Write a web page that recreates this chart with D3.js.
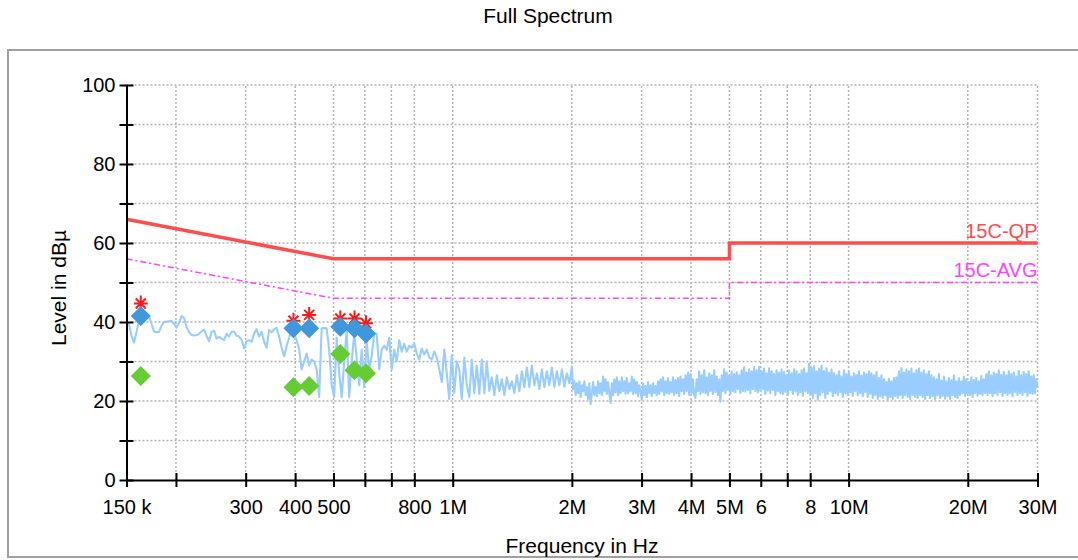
<!DOCTYPE html>
<html><head><meta charset="utf-8">
<script src="https://cdn.jsdelivr.net/npm/d3@7"></script>
<style>
body{margin:0;background:#fff}
svg{display:block}
text{font-family:"Liberation Sans",Arial,sans-serif}
</style>
</head><body>
<svg id="chart" width="1078" height="560"></svg>
<script>
const titleText = "Full Spectrum";
const xLabelText = "Frequency in Hz";
const yLabelText = "Level in dBµ";

const xTickValues = [150e3, 200e3, 300e3, 400e3, 500e3, 600e3, 700e3, 800e3, 1e6, 2e6, 3e6, 4e6, 5e6, 6e6, 7e6, 8e6, 10e6, 20e6, 30e6];
const xTickLabels = ["150 k", "", "300", "400", "500", "", "", "800", "1M", "2M", "3M", "4M", "5M", "6", "", "8", "10M", "20M", "30M"];
const yTickValues = [0, 10, 20, 30, 40, 50, 60, 70, 80, 90, 100];
const yTickLabels = ["0", "", "20", "", "40", "", "60", "", "80", "", "100"];

const limitNames = ["15C-QP", "15C-AVG"];
const limitQPFreq = [150e3, 500e3, 5e6, 5e6, 30e6];
const limitQPLevel = [66, 56, 56, 60, 60];
const limitAVGFreq = [150e3, 500e3, 5e6, 5e6, 30e6];
const limitAVGLevel = [56, 46, 46, 50, 50];

const markerFreq = [163e3, 396e3, 434e3, 520e3, 565e3, 604e3];
const peakLevel = [44.7, 40.3, 41.8, 40.9, 40.9, 39.7];
const qpLevel = [41.5, 38.4, 38.4, 38.8, 38.4, 37.1];
const avgLevel = [26.3, 23.5, 23.8, 31.9, 27.8, 27.0];

// spectrum trace, part 1: 150 kHz .. 2 MHz (evenly spaced on the log axis)
const traceLowStartHz = 150e3;
const traceLowStopHz = 2e6;
const traceLowLevels = [
40.2, 39.5, 36.5, 34.8, 37.5, 40.5, 41.5, 41.8, 41.5, 41.3,
39.5, 37.6, 37.4, 37.5, 39, 40, 40.1, 40.2, 40.3, 39.5,
38.6, 39.8, 41.5, 41, 38.7, 37.5, 36.7, 36.6, 36.7, 37,
37.6, 38.1, 36.5, 35.1, 37.5, 37.8, 35.8, 36.2, 35.8, 35.4,
37, 36.3, 37.5, 37.6, 36.5, 36.3, 35.5, 33.3, 35.2, 35.4,
35, 37, 38.2, 36.3, 37.5, 35, 33.5, 38, 37.4, 38.2,
38.5, 36.3, 33.5, 31.3, 34, 36, 38, 37, 35.3, 33,
28, 30, 32, 29, 30.5, 30, 28, 21, 38.4, 38.5,
38.4, 33, 24, 21, 36, 27, 21, 30, 38, 21,
30, 37, 31, 24, 33, 23.5, 35, 28, 31.5, 37,
37, 28, 33, 34, 33, 36, 28, 33, 30, 35.4,
32.5, 34.5, 32.5, 34, 33.5, 34.5, 32, 30.5, 33.3, 31.8,
33, 31, 30.5, 32.5, 31, 28, 24.8, 33, 27, 20.5,
31.6, 22, 30, 28, 20.5, 31, 24, 21, 30.4, 22,
29, 21.8, 30.5, 22, 30, 22.5, 26, 21.5, 26.5, 22.5,
25.5, 21.5, 26, 23, 25, 22, 26.5, 22.5, 27.5, 23.5,
28.5, 23.5, 29, 24, 27, 23, 28, 23.5, 27.5, 24,
28.5, 23.5, 27.5, 24, 28, 23.6, 27, 24.5, 28.7
];
// spectrum trace, part 2: 2 MHz .. 30 MHz (evenly spaced on the log axis)
const traceHighStartHz = 2e6;
const traceHighStopHz = 30e6;
const traceHighLevels = [
28.5, 23, 25, 21.5, 24.5, 22, 25, 21, 24, 22.5,
25, 21.5, 23.5, 20.5, 24.5, 19.2, 22, 24.8, 21.5, 23.5,
21.3, 25, 22, 24.5, 21.5, 26.2, 22.5, 25.5, 21.8, 24.8,
22, 19.5, 24.5, 21.5, 25.5, 22.2, 26, 21.5, 25, 22,
26, 22.5, 25, 21.8, 25.8, 22, 24.5, 22.5, 26.2, 21.8,
25.5, 22, 24.8, 21.2, 24, 22.3, 20.3, 24.5, 21.5, 23.8,
21, 24.8, 22, 24, 21.2, 24.5, 22, 23.8, 21.5, 25,
21.8, 25.5, 22.5, 26, 21.5, 25, 22, 25.8, 21.8, 24.8,
22.2, 26, 21.5, 25.3, 22, 25.8, 21.2, 26.2, 22.5, 25.5,
21.8, 26.5, 22.5, 27.2, 21.5, 26.8, 22, 25.5, 21.5, 20.8,
25.5, 22.5, 27.5, 21.8, 26.5, 22.2, 27.8, 22, 26, 21.5,
27, 22.5, 26.5, 21.8, 27.8, 22.3, 26.2, 21.5, 25.5, 19.8,
26.5, 22.5, 28, 22, 27.2, 22.8, 26.5, 21.8, 27.5, 22.5,
26.8, 22.2, 27.3, 23, 26.5, 22, 27.8, 22.5, 28.6, 22.4,
27.2, 22.8, 28, 22, 27.5, 23, 28.6, 22.5, 27.8, 22.2,
28.6, 22.5, 27.5, 23, 28.2, 21.8, 27, 22.6, 28.3, 22,
27.5, 22.8, 26.8, 21.5, 27.8, 22.5, 27.2, 22, 28, 21.8,
27.3, 22.3, 26.5, 21.5, 27.8, 22.8, 27, 21.8, 28, 22.5,
27.5, 21.5, 26.8, 22.2, 27.8, 21.3, 28.2, 22.5, 27, 22,
29.4, 21.5, 28.5, 20.8, 28.8, 22, 27.5, 20.3, 28.2, 21.5,
29, 22.2, 27.6, 20.8, 28.3, 21.8, 27.2, 22.5, 28, 21.2,
27, 22, 26.5, 21.5, 27.5, 22.3, 26.2, 21, 27.8, 22,
26.8, 21.5, 27.3, 22.2, 26.2, 21.3, 27, 22.5, 26.6, 21.5,
27.5, 22, 26.4, 21.2, 27.2, 22.3, 26.8, 21, 27.5, 21.8,
27, 20.8, 26.5, 21.5, 27.3, 20.5, 25.8, 21.2, 26.5, 20.8,
25.5, 21.5, 24.8, 20.3, 25.6, 21, 25, 20.5, 25.8, 21.3,
26, 20.8, 27.5, 21.5, 28.3, 20.8, 27.2, 21.5, 28, 21,
27.5, 20.5, 28.2, 21.5, 27, 21, 27.8, 20.8, 28.3, 21.5,
27.2, 21, 27.8, 20.5, 26.8, 21.5, 27.5, 20.8, 26.5, 21.2,
26, 20.5, 25.5, 21.5, 26.8, 20.8, 25.2, 21.3, 26.2, 20.6,
25, 21.2, 25.8, 20.5, 25.3, 21.5, 26.5, 21, 25, 20.8,
25.8, 21.5, 25, 22, 26.2, 21.2, 25.5, 21.8, 24.8, 21.5,
26, 21, 25.3, 22, 25.8, 21.3, 25, 21.8, 26.3, 21.5,
25.5, 22, 26.8, 21.5, 27.5, 22, 26.5, 21.2, 27.2, 22,
26.8, 21.5, 27.8, 22.2, 26.6, 21.3, 27.3, 22, 26.5, 21.5,
27.5, 22, 26.8, 21.2, 27.2, 22.3, 26.2, 21.5, 27.6, 22,
26.5, 21.5, 27.3, 22.2, 26.8, 21.3, 27.5, 22, 26.2, 21.8,
26.5, 22, 25.5, 23.5
];

const svg = d3.select("#chart");
const x = d3.scaleLog().domain([150e3, 30e6]).range([126.5, 1037.5]);
const y = d3.scaleLinear().domain([0, 100]).range([480, 85]);

// frame
svg.append("rect").attr("x", 8).attr("y", 50).attr("width", 1090).attr("height", 507)
  .attr("fill", "none").attr("stroke", "#a0a0a0").attr("stroke-width", 2);

// title
svg.append("text").attr("x", 548).attr("y", 23).attr("text-anchor", "middle")
  .attr("font-size", 21).text(titleText);

// grid
const grid = svg.append("g").attr("stroke", "#b4b4b4").attr("stroke-width", 1.5).attr("stroke-dasharray", "2,2");
grid.selectAll("line.v").data(xTickValues.slice(1)).join("line").attr("class", "v")
  .attr("x1", d => x(d)).attr("x2", d => x(d)).attr("y1", y(0)).attr("y2", y(100));
grid.selectAll("line.h").data(yTickValues.slice(1)).join("line").attr("class", "h")
  .attr("x1", x(150e3)).attr("x2", x(30e6)).attr("y1", d => y(d)).attr("y2", d => y(d));

// trace
function spread(levels, f0, f1) {
  const n = levels.length;
  return levels.map((v, i) => [f0 * Math.pow(f1 / f0, i / (n - 1)), v]);
}
const traceData = spread(traceLowLevels, traceLowStartHz, traceLowStopHz)
  .concat(spread(traceHighLevels, traceHighStartHz, traceHighStopHz).slice(1));
svg.append("path").datum(traceData)
  .attr("fill", "none").attr("stroke", "#99ccff").attr("stroke-width", 2.1).attr("stroke-linejoin", "round")
  .attr("d", d3.line().x(d => x(d[0])).y(d => y(d[1])));

// limit lines
const lineGen = d3.line().x(d => x(d[0])).y(d => y(d[1]));
svg.append("path").datum(limitAVGFreq.map((f, i) => [f, limitAVGLevel[i]]))
  .attr("fill", "none").attr("stroke", "#ff44ff").attr("stroke-width", 1.5)
  .attr("stroke-dasharray", "6,3,2,3").attr("d", lineGen);
svg.append("path").datum(limitQPFreq.map((f, i) => [f, limitQPLevel[i]]))
  .attr("fill", "none").attr("stroke", "#ff4d4d").attr("stroke-width", 3.5).attr("d", lineGen);

svg.append("text").attr("x", x(30e6)).attr("y", y(limitQPLevel[4]) - 5).attr("text-anchor", "end")
  .attr("font-size", 20).attr("fill", "#ff4d4d").text(limitNames[0]);
svg.append("text").attr("x", x(30e6)).attr("y", y(limitAVGLevel[4]) - 6).attr("text-anchor", "end")
  .attr("font-size", 20).attr("fill", "#ff44ff").text(limitNames[1]);

// axes
const yAxis = svg.append("g").attr("transform", `translate(${x(150e3)},0)`)
  .call(d3.axisLeft(y).tickValues(yTickValues).tickFormat((d, i) => yTickLabels[i])
    .tickSizeInner(7).tickSizeOuter(0).tickPadding(4));
yAxis.selectAll(".tick line").attr("x1", 7).attr("stroke-width", 2);
yAxis.select(".domain").attr("stroke-width", 2);
yAxis.selectAll("text").attr("font-size", 20).attr("font-family", "Liberation Sans, Arial, sans-serif").attr("fill", "#000");

const xAxis = svg.append("g").attr("transform", `translate(0,${y(0)})`)
  .call(d3.axisBottom(x).tickValues(xTickValues).tickFormat((d, i) => xTickLabels[i])
    .tickSizeInner(7).tickSizeOuter(0).tickPadding(13));
xAxis.selectAll(".tick line").attr("y1", -7).attr("stroke-width", 2);
xAxis.select(".domain").attr("stroke-width", 2);
xAxis.selectAll("text").attr("font-size", 20).attr("font-family", "Liberation Sans, Arial, sans-serif").attr("fill", "#000");

// axis labels
svg.append("text").attr("x", 582).attr("y", 553).attr("text-anchor", "middle")
  .attr("font-size", 21).text(xLabelText);
svg.append("text").attr("transform", "translate(66,288) rotate(-90)").attr("text-anchor", "middle")
  .attr("font-size", 21).text(yLabelText);

// markers
const starPath = "M0,-8V8M-7,0H7M-5,-5L5,5M-5,5L5,-5";
const diamondPath = "M0,-10L10,0L0,10L-10,0Z";
svg.append("g").selectAll("path").data(markerFreq).join("path")
  .attr("transform", (d, i) => `translate(${x(d)},${y(peakLevel[i])})`)
  .attr("d", starPath).attr("stroke", "#ff1a1a").attr("stroke-width", 2).attr("fill", "none");
svg.append("g").selectAll("path").data(markerFreq).join("path")
  .attr("transform", (d, i) => `translate(${x(d)},${y(qpLevel[i])})`)
  .attr("d", diamondPath).attr("fill", "#3f97dc");
svg.append("g").selectAll("path").data(markerFreq).join("path")
  .attr("transform", (d, i) => `translate(${x(d)},${y(avgLevel[i])})`)
  .attr("d", diamondPath).attr("fill", "#66cc33");
</script>
</body></html>
